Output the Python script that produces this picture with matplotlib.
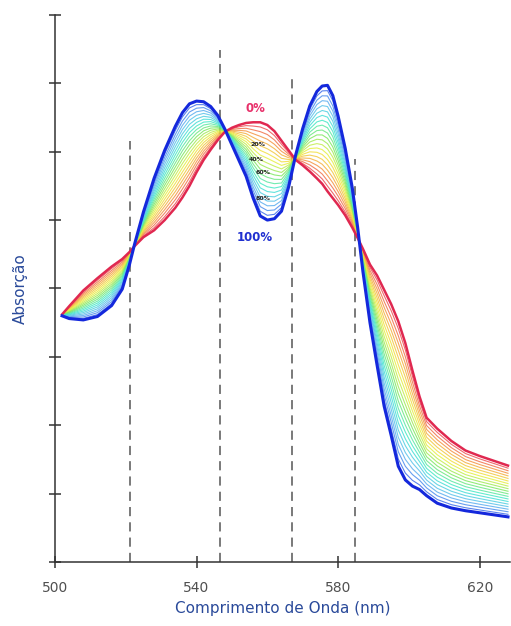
import numpy as np
import matplotlib.pyplot as plt
from matplotlib.colors import LinearSegmentedColormap

# =====================================================
# DATA
# =====================================================

wavelength = [
    502, 504, 508, 512, 516, 519, 521, 522.5, 525, 528,
    531, 534, 536, 538, 540, 542, 544, 546, 548, 550,
    552, 554, 556, 558, 560, 562, 564, 566, 568, 570,
    572, 574, 575.5, 577, 578.5, 580, 582, 584, 585.5, 587,
    589, 591, 593, 595, 597, 599, 601, 603, 605, 608,
    612, 616, 620, 624, 628
]

# 0 % spectrum
abs_0 = [
    3.62, 3.74, 3.97, 4.15, 4.32, 4.43, 4.53, 4.62, 4.75, 4.85,
    5.00, 5.18, 5.33, 5.50, 5.70, 5.88, 6.03, 6.17, 6.29, 6.35,
    6.39, 6.42, 6.43, 6.43, 6.39, 6.30, 6.16, 6.02, 5.88, 5.80,
    5.71, 5.61, 5.53, 5.42, 5.32, 5.22, 5.07, 4.89, 4.74, 4.58,
    4.35, 4.19, 3.98, 3.77, 3.52, 3.20, 2.80, 2.42, 2.11, 1.95,
    1.77, 1.63, 1.55, 1.48, 1.41
]

# 100 % spectrum
abs_100 = [
    3.60, 3.56, 3.54, 3.59, 3.75, 3.99, 4.34, 4.65, 5.12, 5.61,
    6.02, 6.37, 6.57, 6.70, 6.74, 6.73, 6.66, 6.53, 6.33, 6.10,
    5.87, 5.64, 5.32, 5.06, 5.00, 5.02, 5.13, 5.48, 5.95, 6.34,
    6.67, 6.88, 6.96, 6.97, 6.82, 6.52, 6.05, 5.47, 4.90, 4.25,
    3.50, 2.88, 2.28, 1.85, 1.40, 1.20, 1.11, 1.06, 0.97, 0.86,
    0.79, 0.75, 0.72, 0.69, 0.66
]

# titration steps between the two spectra
fractions = [
    0.05, 0.10, 0.15, 0.20, 0.25, 0.30, 0.35, 0.40, 0.45,
    0.50, 0.55, 0.60, 0.65, 0.70, 0.75, 0.80, 0.85, 0.90, 0.95
]

# isosbestic points: position and top of dashed line
iso_x = [521.1, 546.5, 567.0, 584.8]
iso_top = [6.15, 7.49, 7.13, 5.89]

pct_labels = ["20%", "40%", "60%", "80%"]
pct_x = [557.3, 557.0, 558.7, 558.7]
pct_y = [6.11, 5.89, 5.69, 5.32]

xticks = [500, 540, 580, 620]

# =====================================================
# PLOT
# =====================================================

fig = plt.figure(figsize=(5.11, 6.26), dpi=100)
ax = fig.add_axes([0.1076, 0.1022, 0.890, 0.874])

wl = np.array(wavelength)
a0 = np.array(abs_0)
a1 = np.array(abs_100)

cmap = LinearSegmentedColormap.from_list(
    "titr",
    ["#e8305a", "#f5a040", "#f0f040", "#80e860",
     "#40e8d0", "#60b8f0", "#3050e8"]
)

for f in fractions:
    ax.plot(wl, (1 - f) * a0 + f * a1,
            color=cmap(f), lw=0.8, alpha=0.85, zorder=2)

ax.plot(wl, a0, color="#e02850", lw=1.8, zorder=3)
ax.plot(wl, a1, color="#1428dc", lw=2.2, zorder=4)

for x, top in zip(iso_x, iso_top):
    ax.plot([x, x], [0, top], color="#555555", lw=1.1,
            dashes=(6, 4), zorder=1)

# labels
ax.text(556.5, 6.63, "0%", color="#e8306a", fontsize=8.5,
        fontweight="bold", ha="center", va="center", zorder=5)
ax.text(556.5, 4.75, "100%", color="#2030d0", fontsize=8.5,
        fontweight="bold", ha="center", va="center", zorder=5)
for lab, x, y in zip(pct_labels, pct_x, pct_y):
    ax.text(x, y, lab, color="#202020", fontsize=4.5,
            fontweight="bold", ha="center", va="center", zorder=5)

ax.set_xlim(500, 628.5)
ax.set_ylim(0, 8)

ax.spines["top"].set_visible(False)
ax.spines["right"].set_visible(False)
for s in ["left", "bottom"]:
    ax.spines[s].set_color("#333333")
    ax.spines[s].set_linewidth(1.1)

ax.set_xticks(xticks)
ax.set_yticks(range(0, 9))
ax.set_yticklabels([])
ax.tick_params(direction="inout", length=8, width=1.1,
               color="#333333", labelsize=10, labelcolor="#505050")
ax.tick_params(axis="x", pad=10)

ax.set_xlabel("Comprimento de Onda (nm)", color="#2a4a9a",
              fontsize=11, labelpad=4)
ax.set_ylabel("Absorção", color="#2a4a9a", fontsize=11, labelpad=12)

plt.savefig("out.png", dpi=100)
